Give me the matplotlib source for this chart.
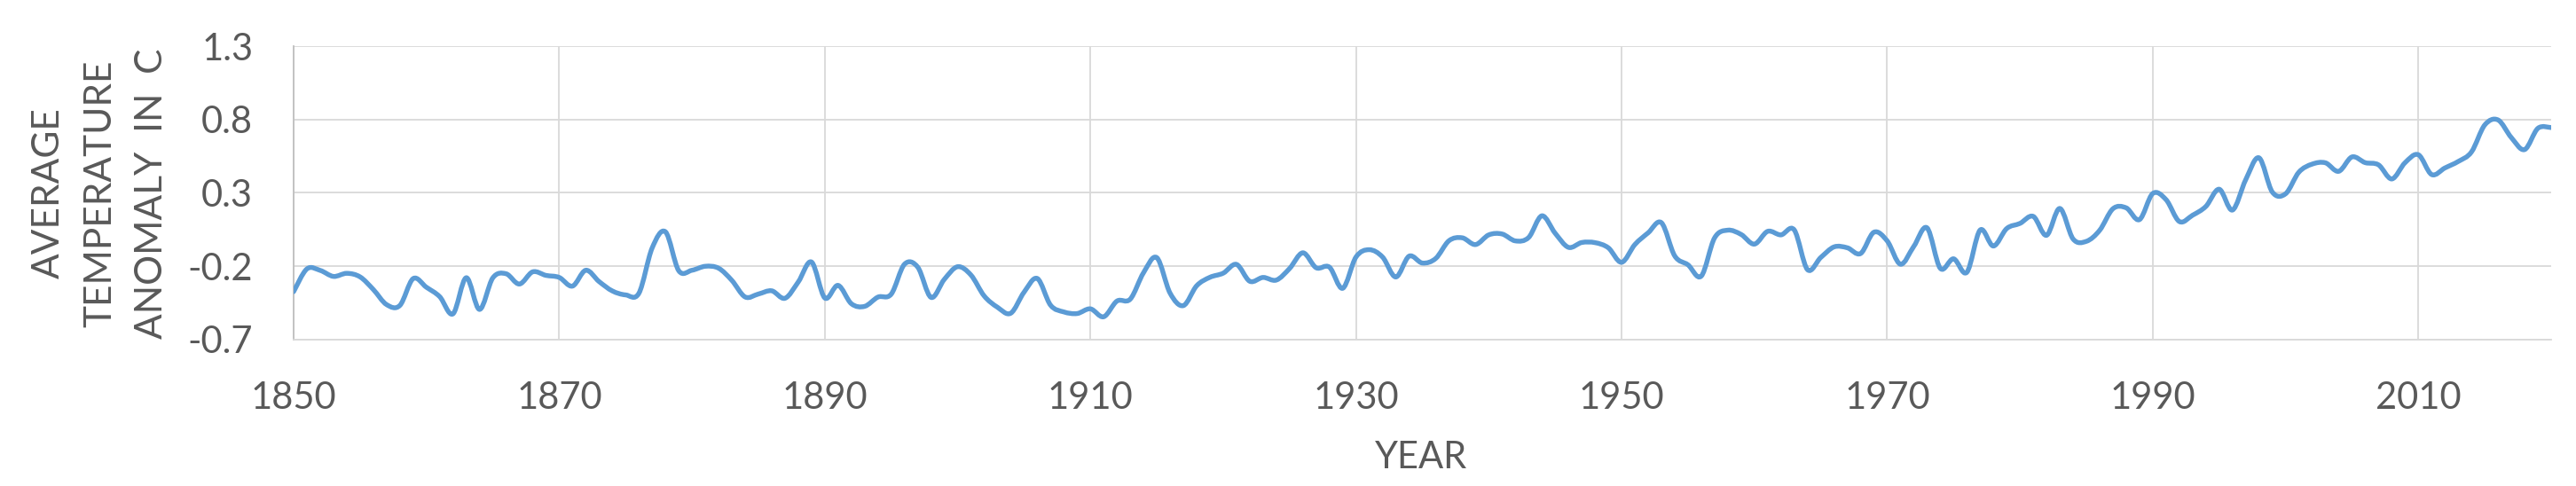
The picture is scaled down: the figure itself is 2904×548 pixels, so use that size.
import numpy as np
import matplotlib
matplotlib.use("Agg")
import matplotlib.pyplot as plt
from matplotlib.path import Path
from matplotlib.patches import PathPatch

plt.rcParams["font.family"] = ["Lato", "DejaVu Sans"]

# annual global temperature anomaly (C)
years = list(range(1850, 2021))
anomaly = [
    -0.373, -0.218, -0.228, -0.269, -0.248, -0.272, -0.358, -0.461, -0.467, -0.284,  # 1850s
    -0.343, -0.407, -0.524, -0.278, -0.494, -0.279, -0.251, -0.321, -0.238, -0.262,  # 1860s
    -0.276, -0.335, -0.227, -0.304, -0.368, -0.395, -0.384, -0.075, 0.035, -0.230,   # 1870s
    -0.227, -0.200, -0.213, -0.296, -0.409, -0.389, -0.367, -0.418, -0.307, -0.171,  # 1880s
    -0.416, -0.330, -0.455, -0.473, -0.410, -0.390, -0.186, -0.206, -0.412, -0.289,  # 1890s
    -0.203, -0.259, -0.402, -0.479, -0.520, -0.377, -0.283, -0.465, -0.511, -0.522,  # 1900s
    -0.490, -0.544, -0.437, -0.424, -0.244, -0.141, -0.383, -0.468, -0.333, -0.275,  # 1910s
    -0.247, -0.187, -0.302, -0.276, -0.294, -0.215, -0.108, -0.210, -0.206, -0.350,  # 1920s
    -0.137, -0.087, -0.137, -0.273, -0.131, -0.178, -0.147, -0.026, -0.006, -0.052,  # 1930s
    0.014, 0.020, -0.027, -0.004, 0.144, 0.025, -0.071, -0.038, -0.039, -0.074,      # 1940s
    -0.173, -0.052, 0.028, 0.097, -0.129, -0.190, -0.267, -0.007, 0.046, 0.017,      # 1950s
    -0.049, 0.038, 0.014, 0.048, -0.223, -0.140, -0.068, -0.074, -0.113, 0.032,      # 1960s
    -0.027, -0.186, -0.065, 0.062, -0.214, -0.149, -0.241, 0.047, -0.062, 0.057,     # 1970s
    0.092, 0.140, 0.011, 0.194, -0.014, -0.030, 0.045, 0.192, 0.198, 0.118,          # 1980s
    0.296, 0.254, 0.105, 0.148, 0.208, 0.325, 0.183, 0.390, 0.539, 0.306,            # 1990s
    0.294, 0.441, 0.496, 0.505, 0.447, 0.545, 0.506, 0.491, 0.395, 0.506,            # 2000s
    0.560, 0.425, 0.470, 0.514, 0.579, 0.763, 0.797, 0.677, 0.595, 0.740,            # 2010s
    0.745,                                                                            # 2020
]
y_ticks = [-0.7, -0.2, 0.3, 0.8, 1.3]
x_ticks = list(range(1850, 2011, 20))

TXT = "#595959"
GRID = "#D9D9D9"
LINE = "#5B9BD5"


def smooth_path(xs, ys):
    # excel-like smoothed line: cubic bezier through every point
    p = np.column_stack([xs, ys]).astype(float)
    n = len(p)
    verts = [p[0]]
    codes = [Path.MOVETO]
    for i in range(n - 1):
        p0 = p[i - 1] if i > 0 else p[i]
        p1, p2 = p[i], p[i + 1]
        p3 = p[i + 2] if i + 2 < n else p[i + 1]
        verts += [p1 + (p2 - p0) / 6.0, p2 - (p3 - p1) / 6.0, p2]
        codes += [Path.CURVE4] * 3
    return Path(verts, codes)


fig = plt.figure(figsize=(29.04, 5.48), dpi=100)
ax = fig.add_axes([331 / 2904, 1 - 383 / 548, 2545 / 2904, 331 / 548])

ax.add_patch(PathPatch(smooth_path(years, anomaly), fill=False,
                       edgecolor=LINE, linewidth=3.9, capstyle="round",
                       joinstyle="round", zorder=3))

ax.set_xlim(1850, 2020)
ax.set_ylim(-0.7, 1.3)
ax.set_xticks(x_ticks)
ax.set_yticks(y_ticks)
ax.set_yticklabels([f"{v:g}" for v in y_ticks])

ax.grid(True, color=GRID, linewidth=1.3)
ax.set_axisbelow(True)
for side in ["top", "right"]:
    ax.spines[side].set_visible(False)
ax.spines["left"].set_color("#BFBFBF")
ax.spines["left"].set_linewidth(1.3)
ax.spines["bottom"].set_color(GRID)
ax.spines["bottom"].set_linewidth(1.3)

ax.tick_params(axis="both", length=0, labelsize=30, labelcolor=TXT)
ax.tick_params(axis="x", pad=34)
ax.tick_params(axis="y", pad=33)

fig.text(1602 / 2904, 1 - 528 / 548, "YEAR", color=TXT, fontsize=30,
         ha="center", va="baseline")
fig.text(113 / 2904, 1 - 218 / 548, "AVERAGE\nTEMPERATURE\nANOMALY  IN  C",
         color=TXT, fontsize=30.5, rotation=90, ha="center", va="center",
         multialignment="center", linespacing=1.65)

fig.savefig("out.png", dpi=100, facecolor="white")
